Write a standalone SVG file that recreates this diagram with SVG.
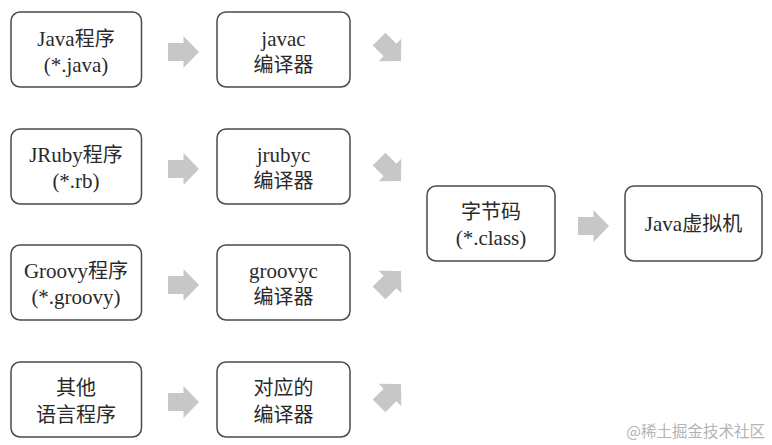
<svg xmlns="http://www.w3.org/2000/svg" xmlns:xlink="http://www.w3.org/1999/xlink" width="772" height="445" viewBox="0 0 772 445">
  <style>
    .box { fill: #ffffff; stroke: #4a4a4a; stroke-width: 1.5; }
    .t { font-family: 'Liberation Serif', 'Times New Roman', Tinos, 'DejaVu Serif', serif; font-size: 21px; fill: #2a2a2a; text-anchor: middle; }
    .c { font-family: 'Noto Sans CJK SC', sans-serif; font-size: 20px; }
    .arr { fill: #c7c7c7; }
    .wm { font-family: 'Noto Sans CJK SC', 'Liberation Sans', sans-serif; font-size: 15.5px; fill: #b4b4b4; text-anchor: end; }
  </style>
  <defs>
    <path id="arrow" d="M-15.5,-9 H0 V-16 L15.5,0 L0,16 V9 H-15.5 Z"/>
  </defs>
  <rect width="772" height="445" fill="#ffffff"/>

  <g id="java-src">
    <rect class="box" x="11" y="12" width="130.5" height="75" rx="9"/>
    <text class="t" x="76" y="46">Java<tspan class="c">程序</tspan></text>
    <text class="t" x="76" y="72">(*.java)</text>
  </g>
  <g id="javac">
    <rect class="box" x="217" y="12" width="133" height="75" rx="9"/>
    <text class="t" x="283.5" y="46">javac</text>
    <text class="t c" x="283.5" y="72">编译器</text>
  </g>

  <g id="jruby-src">
    <rect class="box" x="11" y="129" width="130.5" height="75" rx="9"/>
    <text class="t" x="76" y="162">JRuby<tspan class="c">程序</tspan></text>
    <text class="t" x="76" y="188">(*.rb)</text>
  </g>
  <g id="jrubyc">
    <rect class="box" x="217" y="129" width="133" height="75" rx="9"/>
    <text class="t" x="283.5" y="162">jrubyc</text>
    <text class="t c" x="283.5" y="188">编译器</text>
  </g>

  <g id="groovy-src">
    <rect class="box" x="11" y="245" width="130.5" height="75" rx="9"/>
    <text class="t" x="76" y="278">Groovy<tspan class="c">程序</tspan></text>
    <text class="t" x="76" y="304">(*.groovy)</text>
  </g>
  <g id="groovyc">
    <rect class="box" x="217" y="245" width="133" height="75" rx="9"/>
    <text class="t" x="283.5" y="278">groovyc</text>
    <text class="t c" x="283.5" y="304">编译器</text>
  </g>

  <g id="other-src">
    <rect class="box" x="11" y="362" width="130.5" height="75" rx="9"/>
    <text class="t c" x="76" y="395">其他</text>
    <text class="t c" x="76" y="422">语言程序</text>
  </g>
  <g id="other-compiler">
    <rect class="box" x="217" y="362" width="133" height="75" rx="9"/>
    <text class="t c" x="283.5" y="395">对应的</text>
    <text class="t c" x="283.5" y="422">编译器</text>
  </g>

  <g id="bytecode">
    <rect class="box" x="427" y="186" width="128" height="75" rx="9"/>
    <text class="t c" x="491" y="219">字节码</text>
    <text class="t" x="491" y="245">(*.class)</text>
  </g>
  <g id="jvm">
    <rect class="box" x="625" y="186" width="137" height="75" rx="9"/>
    <text class="t" x="693.5" y="231">Java<tspan class="c">虚拟机</tspan></text>
  </g>

  <g id="connectors">
    <use href="#arrow" xlink:href="#arrow" class="arr" transform="translate(183.5,52)"/>
    <use href="#arrow" xlink:href="#arrow" class="arr" transform="translate(183.5,169)"/>
    <use href="#arrow" xlink:href="#arrow" class="arr" transform="translate(183.5,285)"/>
    <use href="#arrow" xlink:href="#arrow" class="arr" transform="translate(183.5,402)"/>
    <use href="#arrow" xlink:href="#arrow" class="arr" transform="translate(390,50) rotate(45)"/>
    <use href="#arrow" xlink:href="#arrow" class="arr" transform="translate(390,170) rotate(45)"/>
    <use href="#arrow" xlink:href="#arrow" class="arr" transform="translate(390,282) rotate(-45)"/>
    <use href="#arrow" xlink:href="#arrow" class="arr" transform="translate(390,395) rotate(-45)"/>
    <use href="#arrow" xlink:href="#arrow" class="arr" transform="translate(593.5,226)"/>
  </g>

  <text class="wm" x="765" y="437">@稀土掘金技术社区</text>
</svg>
